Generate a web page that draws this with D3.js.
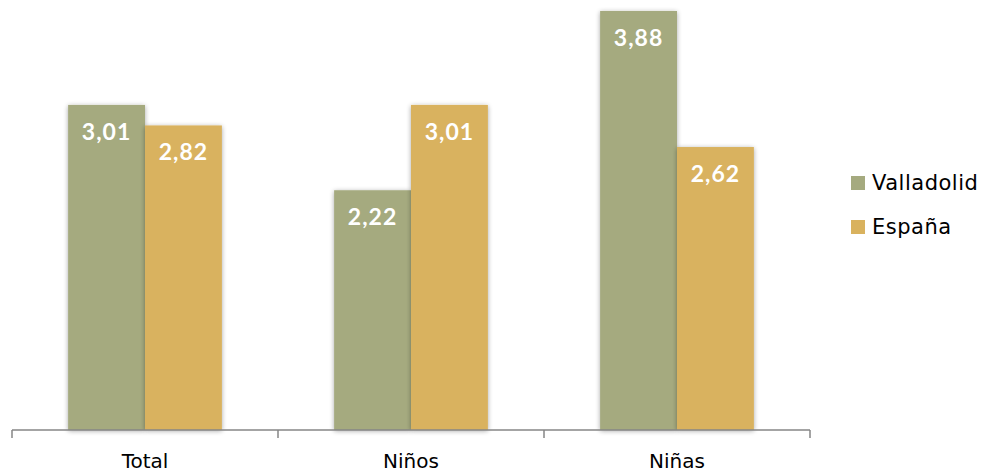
<!DOCTYPE html>
<html>
<head>
<meta charset="utf-8">
<script src="https://cdn.jsdelivr.net/npm/d3@7"></script>
<style>
  body { margin: 0; background: #fff; }
  svg { display: block; }
</style>
</head>
<body>
<div id="chart"></div>
<script>
var categories = ["Total", "Niños", "Niñas"];
var seriesNames = ["Valladolid", "España"];
var valladolid = [3.01, 2.22, 3.88];
var espana = [2.82, 3.01, 2.62];
var colors = ["#a5aa7f", "#d9b25e"];

var width = 988,
    height = 473,
    margin = { left: 12, right: 178, top: -2, bottom: 43 };

var svg = d3.select("#chart").append("svg")
    .attr("width", width)
    .attr("height", height);

var defs = svg.append("defs");
var shadow = defs.append("filter").attr("id", "shadow")
    .attr("x", "-20%").attr("y", "-20%").attr("width", "140%").attr("height", "140%");
shadow.append("feGaussianBlur").attr("in", "SourceAlpha").attr("stdDeviation", 2.5);
shadow.append("feOffset").attr("dx", 0).attr("dy", 1).attr("result", "off");
shadow.append("feComponentTransfer").append("feFuncA").attr("type", "linear").attr("slope", 0.35);
var merge = shadow.append("feMerge");
merge.append("feMergeNode");
merge.append("feMergeNode").attr("in", "SourceGraphic");

var x0 = d3.scaleBand()
    .domain(categories)
    .range([margin.left, width - margin.right])
    .paddingInner(0)
    .paddingOuter(0);

var x1 = d3.scaleBand()
    .domain(seriesNames)
    .range([0, x0.bandwidth()])
    .paddingInner(0)
    .paddingOuter(0.73);

var y = d3.scaleLinear()
    .domain([0, 4])
    .range([height - margin.bottom, margin.top]);

var rows = categories.map(function (c, i) {
    return { cat: c, values: [
        { name: seriesNames[0], value: valladolid[i] },
        { name: seriesNames[1], value: espana[i] }
    ] };
});

var groups = svg.append("g").selectAll("g.group")
    .data(rows)
    .enter().append("g")
    .attr("class", "group")
    .attr("transform", function (d) { return "translate(" + x0(d.cat) + ",0)"; });

groups.selectAll("rect")
    .data(function (d) { return d.values; })
    .enter().append("rect")
    .attr("x", function (d) { return x1(d.name); })
    .attr("y", function (d) { return y(d.value); })
    .attr("width", x1.bandwidth())
    .attr("height", function (d) { return y(0) - y(d.value); })
    .attr("fill", function (d, i) { return colors[i]; })
    .attr("filter", "url(#shadow)");

groups.selectAll("text.val")
    .data(function (d) { return d.values; })
    .enter().append("text")
    .attr("class", "val")
    .attr("x", function (d) { return x1(d.name) + x1.bandwidth() / 2; })
    .attr("y", function (d) { return y(d.value) + 35; })
    .attr("text-anchor", "middle")
    .attr("fill", "#fff")
    .style("font-family", "Lato, 'DejaVu Sans', sans-serif")
    .style("font-weight", "bold")
    .style("font-size", "23px")
    .style("letter-spacing", "1px")
    .text(function (d) { return d3.format(".2f")(d.value).replace(".", ","); });

// category axis
var axisG = svg.append("g")
    .attr("transform", "translate(0," + y(0) + ")");
axisG.append("line")
    .attr("x1", margin.left).attr("x2", width - margin.right)
    .attr("y1", 0).attr("y2", 0)
    .attr("stroke", "#868686").attr("stroke-width", 1.5);
var tickXs = categories.map(function (c) { return x0(c); }).concat([x0(categories[categories.length - 1]) + x0.bandwidth()]);
axisG.selectAll("line.tick")
    .data(tickXs)
    .enter().append("line")
    .attr("class", "tick")
    .attr("x1", function (d) { return d; }).attr("x2", function (d) { return d; })
    .attr("y1", 0).attr("y2", 8)
    .attr("stroke", "#868686").attr("stroke-width", 1.5);
axisG.selectAll("text")
    .data(categories)
    .enter().append("text")
    .attr("x", function (d) { return x0(d) + x0.bandwidth() / 2; })
    .attr("y", 38)
    .attr("text-anchor", "middle")
    .attr("fill", "#000")
    .style("font-family", "'DejaVu Sans', sans-serif")
    .style("font-size", "20px")
    .text(function (d) { return d; });

// legend
var legend = svg.append("g").selectAll("g.leg")
    .data(seriesNames)
    .enter().append("g")
    .attr("class", "leg")
    .attr("transform", function (d, i) { return "translate(851," + (176 + i * 44) + ")"; });
legend.append("rect")
    .attr("width", 14).attr("height", 14)
    .attr("fill", function (d, i) { return colors[i]; });
legend.append("text")
    .attr("x", 21).attr("y", 14)
    .attr("fill", "#000")
    .style("font-family", "'DejaVu Sans', sans-serif")
    .style("font-size", "21px")
    .style("letter-spacing", "0.5px")
    .text(function (d) { return d; });
</script>
</body>
</html>
